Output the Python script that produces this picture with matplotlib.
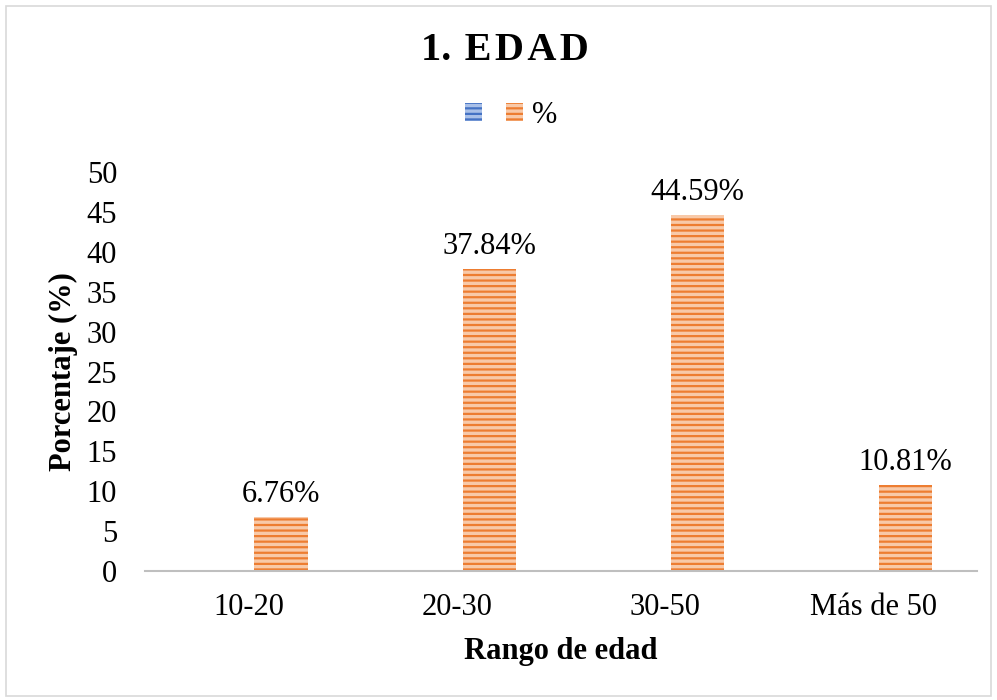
import numpy as np
import matplotlib.pyplot as plt
from matplotlib.patches import Rectangle

plt.rcParams['font.family'] = ['Liberation Serif', 'DejaVu Serif']
plt.rcParams['hatch.linewidth'] = 1.6

categorias = ['10-20', '20-30', '30-50', 'Más de 50']
rango = [0, 0, 0, 0]
porcentaje = [6.76, 37.84, 44.59, 10.81]
etiquetas = ['6.76%', '37.84%', '44.59%', '10.81%']

azul = '#4472C4'
naranja = '#ED7D31'

fig = plt.figure(figsize=(9.97, 7), dpi=100)
fig.patches.append(Rectangle((0.006, 0.006), 0.988, 0.985, transform=fig.transFigure,
                             fill=False, edgecolor='#D9D9D9', linewidth=1.2))
ax = fig.add_axes([0.1454, 0.1843, 0.8346, 0.5697])

x = np.arange(len(categorias))
w = 0.255
off = 0.154
b1 = ax.bar(x - off, rango, w, color='#A9C0E8', edgecolor=azul, hatch='---', linewidth=0)
bars = ax.bar(x + off, porcentaje, w, color='#F8C9A8', edgecolor=naranja, hatch='---',
              linewidth=0)

for b, t in zip(bars, etiquetas):
    ax.text(b.get_x() + b.get_width() / 2, b.get_height() + 1.0, t,
            ha='center', va='bottom', fontsize=22)

ax.set_xlim(-0.5, 3.5)
ax.set_ylim(0, 50)
ax.set_yticks(range(0, 51, 5))
ax.set_xticks(x)
ax.set_xticklabels(categorias)
ax.tick_params(axis='both', length=0, labelsize=22)
ax.tick_params(axis='x', pad=16)
ax.tick_params(axis='y', pad=20)
for s in ['top', 'right', 'left']:
    ax.spines[s].set_visible(False)
ax.spines['bottom'].set_color('#BFBFBF')
ax.spines['bottom'].set_linewidth(1.5)

ax.set_xlabel('Rango de edad', fontsize=22, fontweight='bold', labelpad=11)
ax.set_ylabel('Porcentaje (%)', fontsize=22, fontweight='bold', labelpad=6)

hs = '\u200a'
titulo = '1.' + hs + ' ' + hs.join('EDAD')
fig.text(0.506, 0.928, titulo, ha='center', va='center', fontsize=29, fontweight='bold')
fig.legend([b1, bars], ['', '%'], loc='center', bbox_to_anchor=(0.513, 0.835), ncol=2,
           frameon=False, fontsize=22, handlelength=0.55, handleheight=0.55,
           columnspacing=0.5, handletextpad=0.3)

fig.savefig('out.png', dpi=100)
